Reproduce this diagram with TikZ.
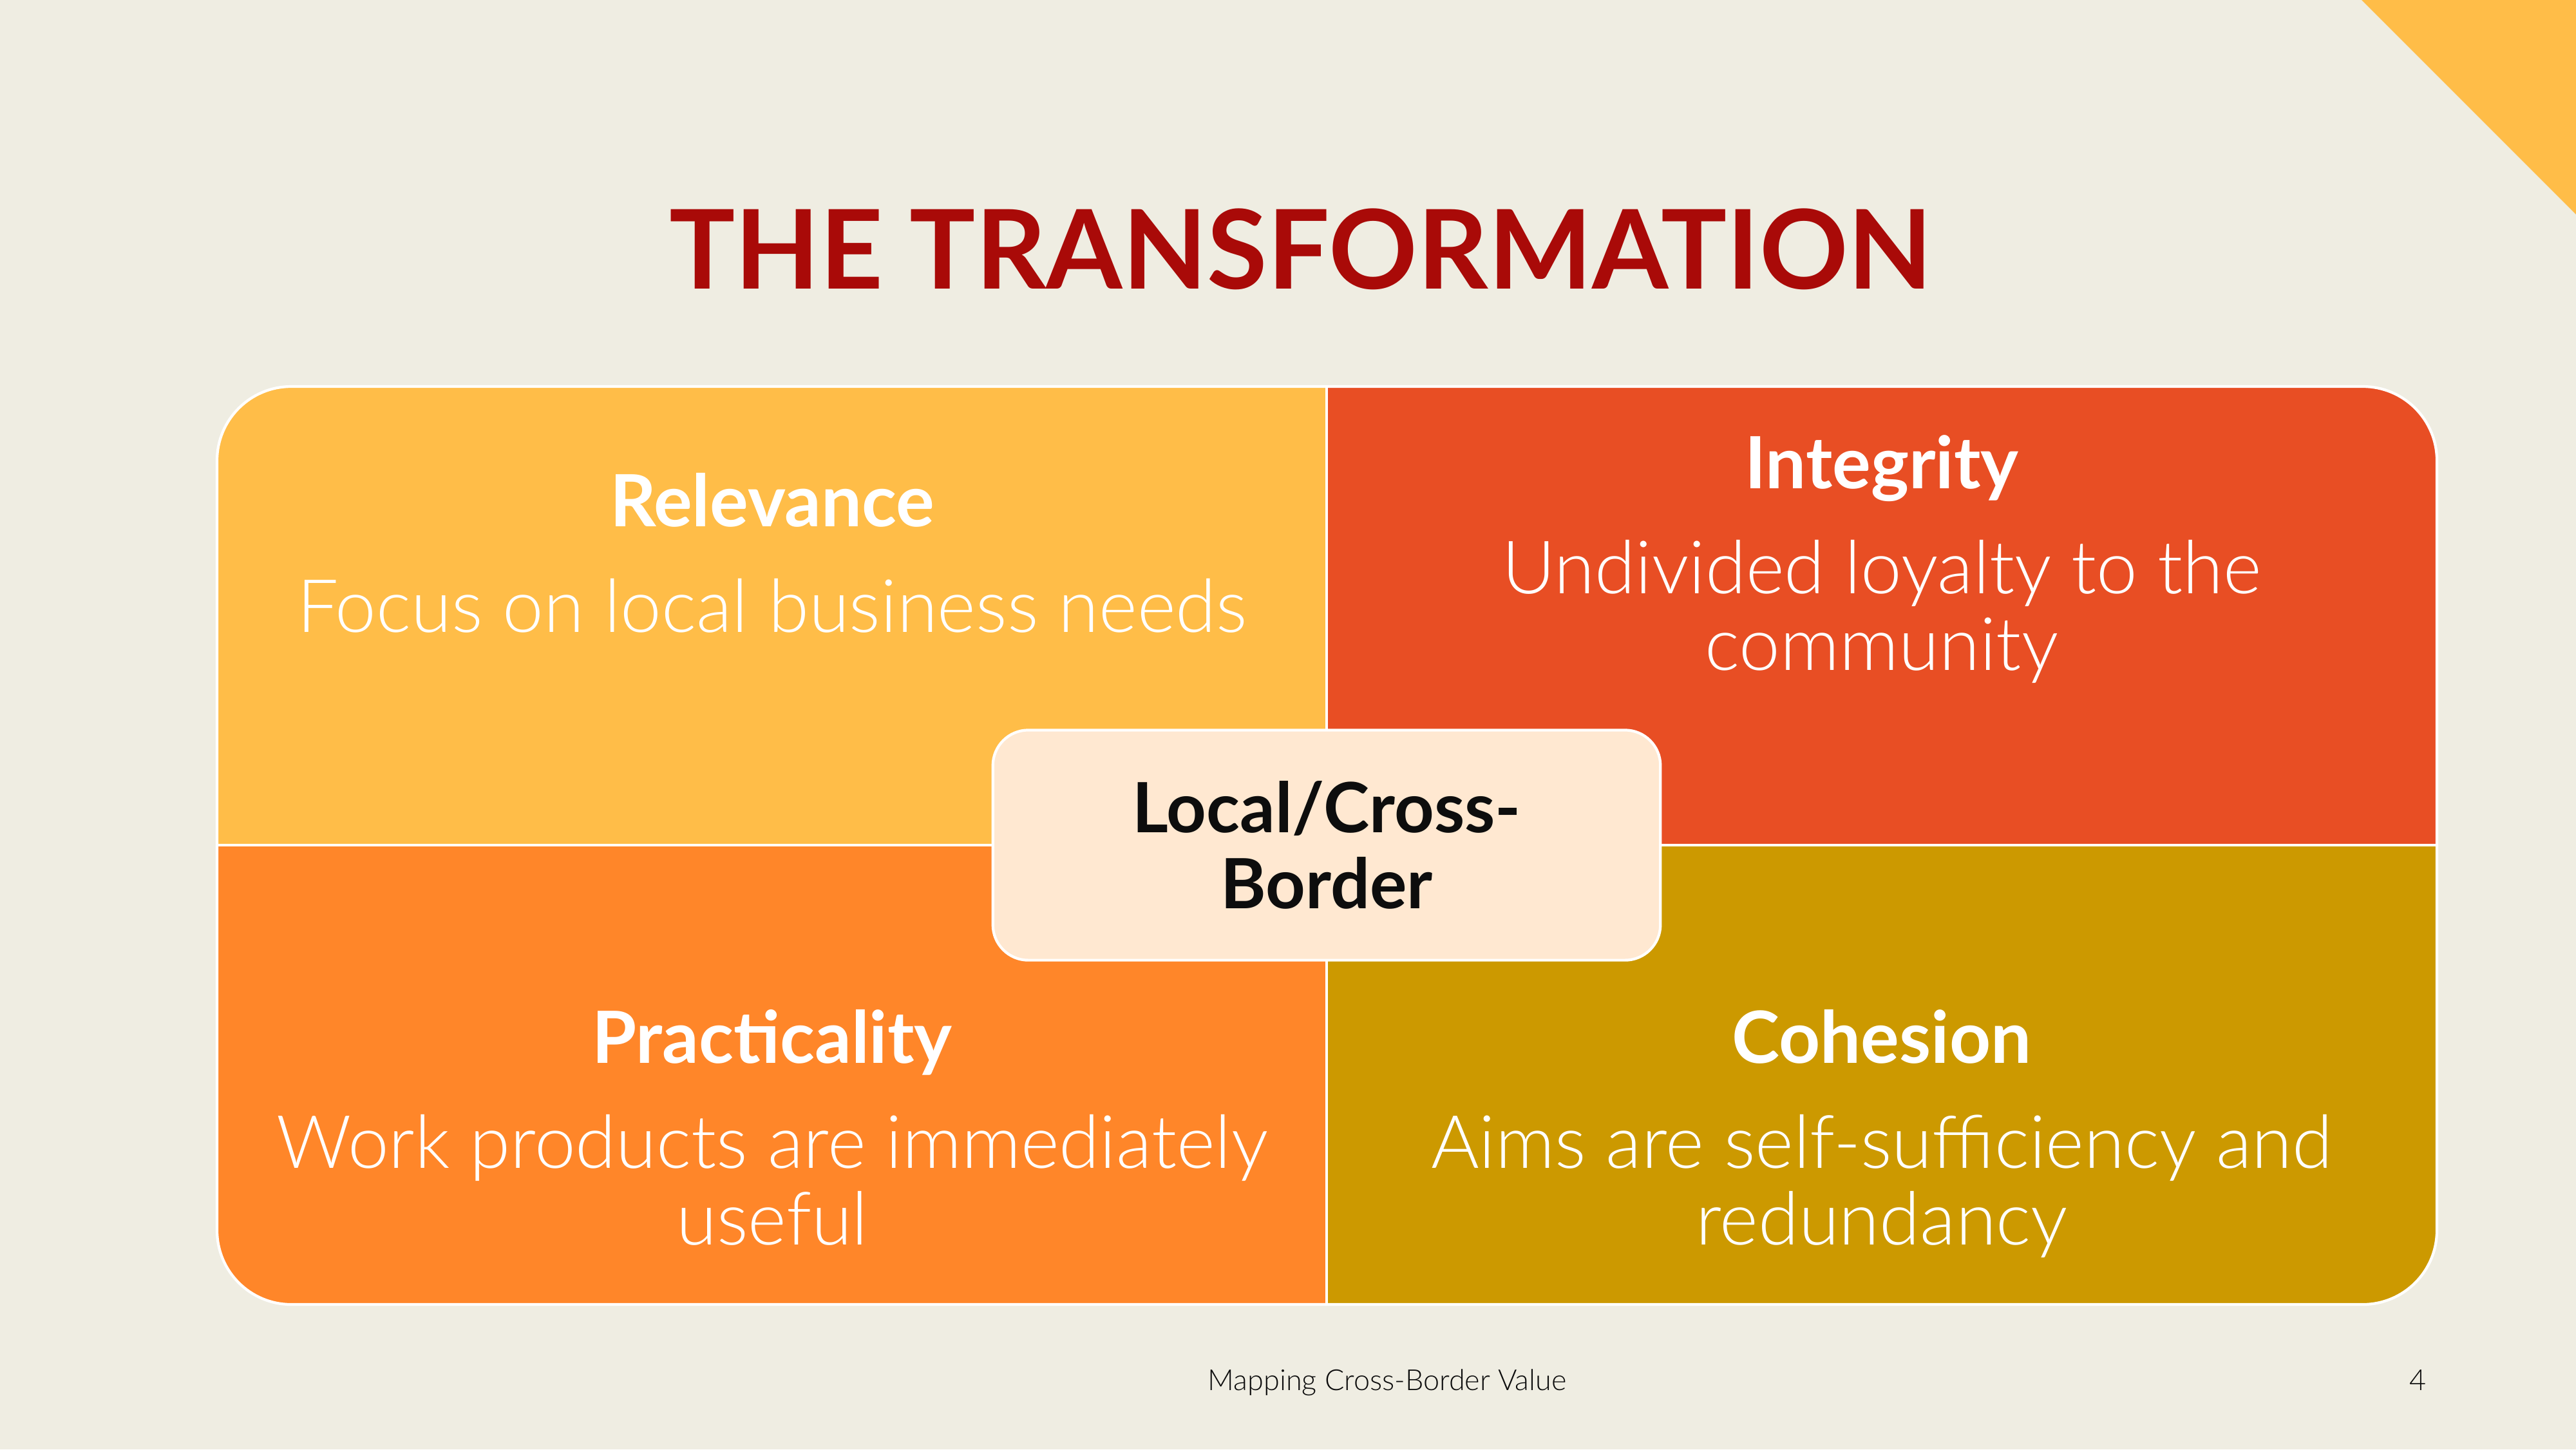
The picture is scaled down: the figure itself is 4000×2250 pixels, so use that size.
\documentclass[tikz,border=0pt]{standalone}
\usepackage{fontspec}
\setmainfont{Lato}
\newfontfamily\lightfont{Lato Light}
\usetikzlibrary{positioning}
\definecolor{bgcream}{HTML}{EFEDE2}
\definecolor{sunyellow}{HTML}{FFBD48}
\definecolor{redorange}{HTML}{E84E24}
\definecolor{brightorange}{HTML}{FF8629}
\definecolor{mustard}{HTML}{CC9900}
\definecolor{paleapricot}{HTML}{FFE8D1}
\definecolor{titlered}{HTML}{A90A08}
\definecolor{inkblack}{HTML}{0D0D0D}

\begin{document}
\begin{tikzpicture}[x=0.01cm,y=-0.01cm]
  \tikzstyle{every node}+=[inner sep=0pt, outer sep=0pt]
  \tikzstyle{heading}=[font=\fontsize{31.8}{33.6}\selectfont\bfseries, text=white, anchor=base]
  \tikzstyle{blurb}=[font=\lightfont\fontsize{32.5}{33.6}\selectfont, text=white, align=center, anchor=base]
  \useasboundingbox (0,0) rectangle (4000,2250);
  \fill [bgcream] (0,0) rectangle (4000,2250);
  \fill [sunyellow] (3667,0) -- (4000,0) -- (4000,333) -- cycle;
  % title
  \node [font=\fontsize{48.5}{50}\selectfont\bfseries, text=titlered, anchor=base] (title) at (2020,448) {THE TRANSFORMATION};
  % quadrants
  \begin{scope}
    \clip [rounded corners=1.15cm] (337,600) rectangle (3784,2025);
    \fill [sunyellow] (337,600) rectangle (2060,1312);
    \fill [redorange] (2060,600) rectangle (3784,1312);
    \fill [brightorange] (337,1312) rectangle (2060,2025);
    \fill [mustard] (2060,1312) rectangle (3784,2025);
  \end{scope}
  \draw [white, line width=1.2pt] (2060,600) -- (2060,2025);
  \draw [white, line width=1.2pt] (337,1312) -- (3784,1312);
  \draw [white, line width=1.2pt, rounded corners=1.15cm] (337,600) rectangle (3784,2025);
  % texts (multi-line blurbs sit on their last baseline)
  \node [heading] (relevance) at (1199,817) {Relevance};
  \node [blurb] (relevancetext) at (1199,981) {Focus on local business needs};
  \node [heading] (integrity) at (2922,758) {Integrity};
  \node [blurb] (integritytext) at (2922,1040) {Undivided loyalty to the\\community};
  \node [heading] (practicality) at (1199,1650) {Practicality};
  \node [blurb] (practicalitytext) at (1199,1932) {Work products are immediately\\useful};
  \node [heading] (cohesion) at (2922,1650) {Cohesion};
  \node [blurb] (cohesiontext) at (2922,1932) {Aims are self-sufficiency and\\redundancy};
  % centre box
  \node [fill=paleapricot, draw=white, line width=1.2pt, rounded corners=0.55cm,
         minimum width=10.36cm, minimum height=3.57cm,
         font=\fontsize{30.6}{33.6}\selectfont\bfseries, text=inkblack, align=center] (hub) at (2060,1312) {Local/Cross-\\Border};
  % footer
  \node [font=\lightfont\fontsize{12.8}{14}\selectfont, text=inkblack, anchor=base] (footer) at (2154,2158) {Mapping Cross-Border Value};
  \node [font=\lightfont\fontsize{12.8}{14}\selectfont, text=inkblack, anchor=base east] (pagenum) at (3768,2158) {4};
\end{tikzpicture}
\end{document}
